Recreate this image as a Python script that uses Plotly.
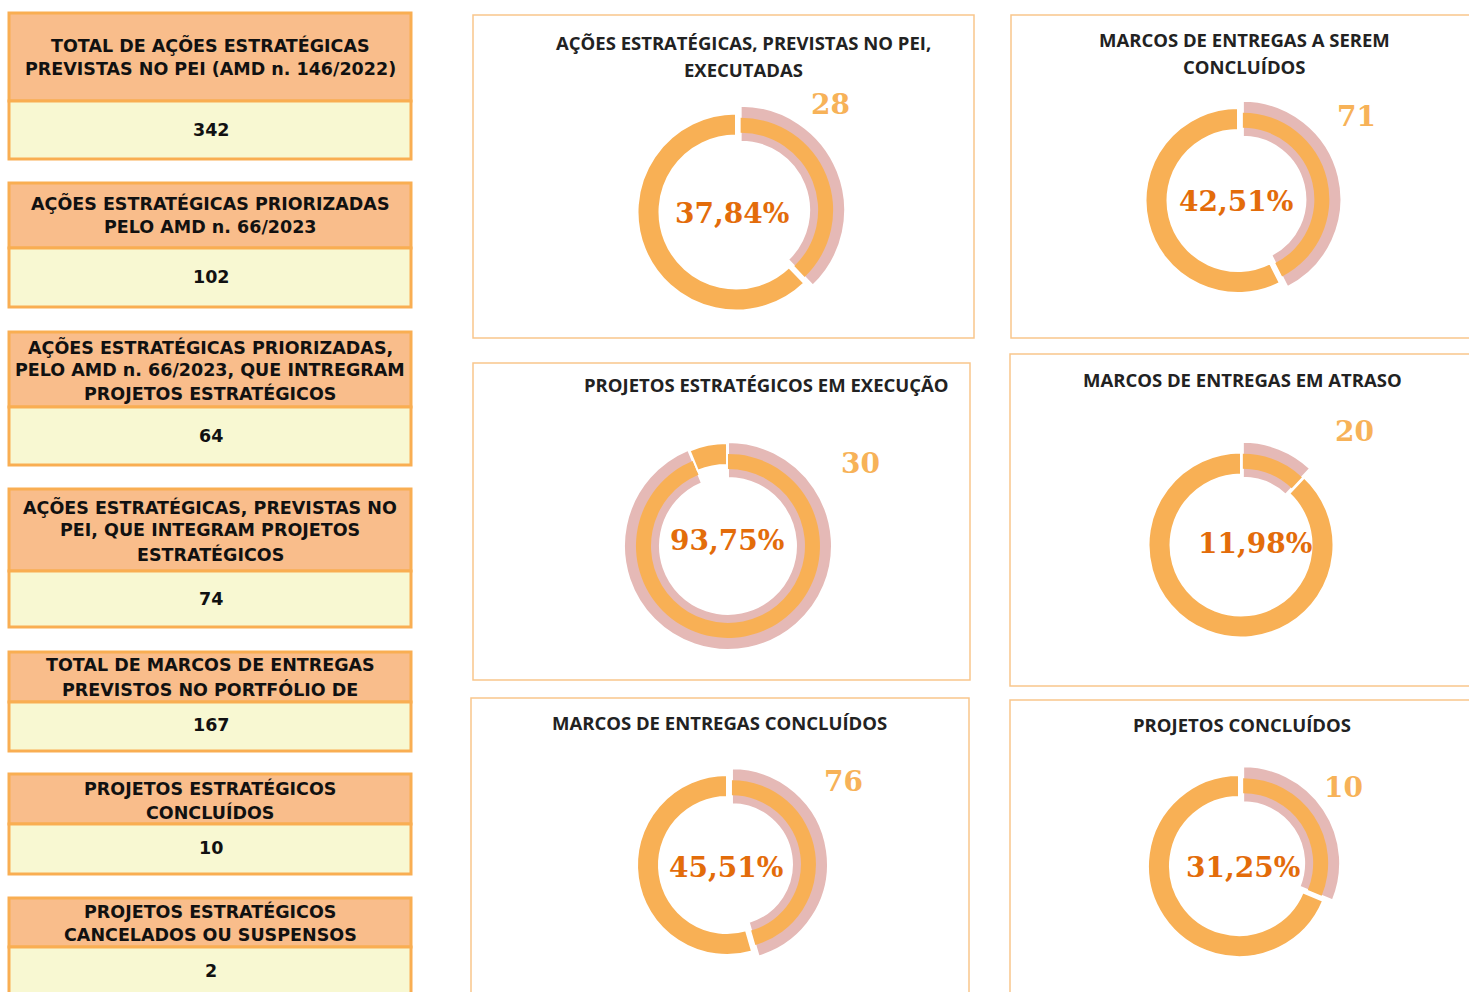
import plotly.graph_objects as go

# ---------------- data ----------------
box_lines = [
    ["TOTAL DE AÇÕES ESTRATÉGICAS", "PREVISTAS NO PEI (AMD n. 146/2022)"],
    ["AÇÕES ESTRATÉGICAS PRIORIZADAS", "PELO AMD n. 66/2023"],
    ["AÇÕES ESTRATÉGICAS PRIORIZADAS,", "PELO AMD n. 66/2023, QUE INTREGRAM", "PROJETOS ESTRATÉGICOS"],
    ["AÇÕES ESTRATÉGICAS, PREVISTAS NO", "PEI, QUE INTEGRAM PROJETOS", "ESTRATÉGICOS"],
    ["TOTAL DE MARCOS DE ENTREGAS", "PREVISTOS NO PORTFÓLIO DE"],
    ["PROJETOS ESTRATÉGICOS", "CONCLUÍDOS"],
    ["PROJETOS ESTRATÉGICOS", "CANCELADOS OU SUSPENSOS"],
]
box_values = [342, 102, 64, 74, 167, 10, 2]

panel_titles = [
    ["AÇÕES ESTRATÉGICAS, PREVISTAS NO PEI,", "EXECUTADAS"],
    ["MARCOS DE ENTREGAS A SEREM", "CONCLUÍDOS"],
    ["PROJETOS ESTRATÉGICOS EM EXECUÇÃO"],
    ["MARCOS DE ENTREGAS EM ATRASO"],
    ["MARCOS DE ENTREGAS CONCLUÍDOS"],
    ["PROJETOS CONCLUÍDOS"],
]
done_counts = [28, 71, 30, 20, 76, 10]
totals = [74, 167, 32, 167, 167, 32]

# ---------------- layout geometry (pixels) ----------------
W, H = 1469, 992
def fx(x): return x / W
def fy(y): return 1 - y / H

BOX_X0, BOX_X1 = 9, 411
box_geom = [(13, 101, 159), (183, 248, 307), (332, 407, 465), (489, 571, 627),
            (652, 702, 751), (774, 824, 874), (898, 947, 1010)]
box_line_y = [[45, 68.5], [203, 227], [346.5, 370, 393], [506.5, 530, 554],
              [665, 689], [788, 812], [911, 935]]
box_value_y = [130, 277, 436.5, 599, 725, 847.5, 971]

panels = [(473, 15, 974, 338), (1011, 15, 1480, 338), (473, 363, 970, 680),
          (1010, 354, 1480, 686), (471, 698, 969, 1010), (1010, 700, 1480, 1010)]
title_pos = [[(743, 42), (743, 69)], [(1244, 40), (1244, 67)], [(766, 384)],
             [(1242, 379)], [(719, 722)], [(1242, 724)]]

donut_geo = [(736, 212, 98.5), (1238, 200.5, 92.5), (727, 541, 98),
             (1241, 545, 92.5), (727, 865, 90), (1239, 866, 91)]
count_pos = [(831, 105), (1356, 116), (860, 463), (1354, 431), (843, 781), (1343, 787)]
pct_pos = [(732, 213), (1236, 201), (727, 540), (1255, 543), (726, 867), (1243, 867)]

ORANGE = "#F8B055"
PINK = "#E5B9B6"
CLEAR = "rgba(0,0,0,0)"
HEAD_FILL = "#F9BD8B"
VAL_FILL = "#F8F8D2"
BOX_LINE = "#F9AE52"
PANEL_LINE = "#F9C68C"

fig = go.Figure()
shapes = []
annotations = []

# left boxes
for i, (t, d, b) in enumerate(box_geom):
    shapes.append(dict(type="rect", xref="paper", yref="paper", x0=fx(BOX_X0), x1=fx(BOX_X1),
                       y0=fy(d), y1=fy(t), fillcolor=HEAD_FILL, line=dict(color=BOX_LINE, width=3), layer="below"))
    shapes.append(dict(type="rect", xref="paper", yref="paper", x0=fx(BOX_X0), x1=fx(BOX_X1),
                       y0=fy(b), y1=fy(d), fillcolor=VAL_FILL, line=dict(color=BOX_LINE, width=3), layer="below"))
    for line, yy in zip(box_lines[i], box_line_y[i]):
        annotations.append(dict(text=line, x=fx(210), y=fy(yy), xref="paper", yref="paper",
                                xanchor="center", yanchor="middle", showarrow=False,
                                font=dict(family="DejaVu Sans", size=17.5, color="#111111", weight="bold")))
    annotations.append(dict(text=str(box_values[i]), x=fx(211), y=fy(box_value_y[i]), xref="paper", yref="paper",
                            xanchor="center", yanchor="middle", showarrow=False,
                            font=dict(family="DejaVu Sans", size=17.5, color="#111111", weight="bold")))

# panels
for (x0, y0, x1, y1) in panels:
    shapes.append(dict(type="rect", xref="paper", yref="paper", x0=fx(x0), x1=fx(x1),
                       y0=fy(y1), y1=fy(y0), fillcolor="rgba(0,0,0,0)",
                       line=dict(color=PANEL_LINE, width=1.5), layer="below"))

for i, lines in enumerate(panel_titles):
    for line, (xx, yy) in zip(lines, title_pos[i]):
        annotations.append(dict(text=line, x=fx(xx), y=fy(yy), xref="paper", yref="paper",
                                xanchor="center", yanchor="middle", showarrow=False,
                                font=dict(family="Open Sans", size=18.5, color="#222222", weight="bold")))

def domain_for(cx, cy, r, pull_px):
    hs = r + pull_px
    return dict(x=[fx(cx - hs), fx(cx + hs)], y=[fy(cy + hs), fy(cy - hs)])

PULL = 5
for i in range(6):
    cx, cy, R = donut_geo[i]
    done = done_counts[i]
    rest = totals[i] - done
    vals = [done, rest]
    # pink outer band of the executed slice (pulled)
    rA = R + 6
    fig.add_trace(go.Pie(values=vals, sort=False, direction="clockwise", rotation=0,
                         hole=(R - 30) / rA, pull=[PULL / rA, 0],
                         domain=domain_for(cx, cy, rA, PULL),
                         marker=dict(colors=[PINK, CLEAR], line=dict(color=["white", CLEAR], width=2)),
                         textinfo="none", hoverinfo="skip", showlegend=False))
    # orange band inside executed slice
    rB = R - 6
    fig.add_trace(go.Pie(values=vals, sort=False, direction="clockwise", rotation=0,
                         hole=(R - 21) / rB, pull=[PULL / rB, 0],
                         domain=domain_for(cx, cy, rB, PULL),
                         marker=dict(colors=[ORANGE, CLEAR], line=dict(color=[CLEAR, CLEAR], width=0)),
                         textinfo="none", hoverinfo="skip", showlegend=False))
    # remaining orange ring
    fig.add_trace(go.Pie(values=vals, sort=False, direction="clockwise", rotation=0,
                         hole=(R - 22) / R,
                         domain=domain_for(cx, cy, R, 0),
                         marker=dict(colors=[CLEAR, ORANGE], line=dict(color=[CLEAR, "white"], width=2)),
                         textinfo="none", hoverinfo="skip", showlegend=False))
    pct = done / totals[i] * 100
    pct_txt = f"{pct:.2f}".replace(".", ",") + "%"
    annotations.append(dict(text=pct_txt, x=fx(pct_pos[i][0]), y=fy(pct_pos[i][1]), xref="paper", yref="paper",
                            xanchor="center", yanchor="middle", showarrow=False,
                            font=dict(family="DejaVu Serif", size=28, color="#E36C0A", weight="bold")))
    annotations.append(dict(text=str(done), x=fx(count_pos[i][0]), y=fy(count_pos[i][1]), xref="paper", yref="paper",
                            xanchor="center", yanchor="middle", showarrow=False,
                            font=dict(family="DejaVu Serif", size=28, color="#F7B258", weight="bold")))

fig.update_layout(width=W, height=H, margin=dict(l=0, r=0, t=0, b=0),
                  paper_bgcolor="white", plot_bgcolor="white",
                  shapes=shapes, annotations=annotations, showlegend=False)

fig.write_html("out.html", config={"displayModeBar": False},
               post_script="document.body.style.margin='0';document.body.style.overflow='hidden';")
